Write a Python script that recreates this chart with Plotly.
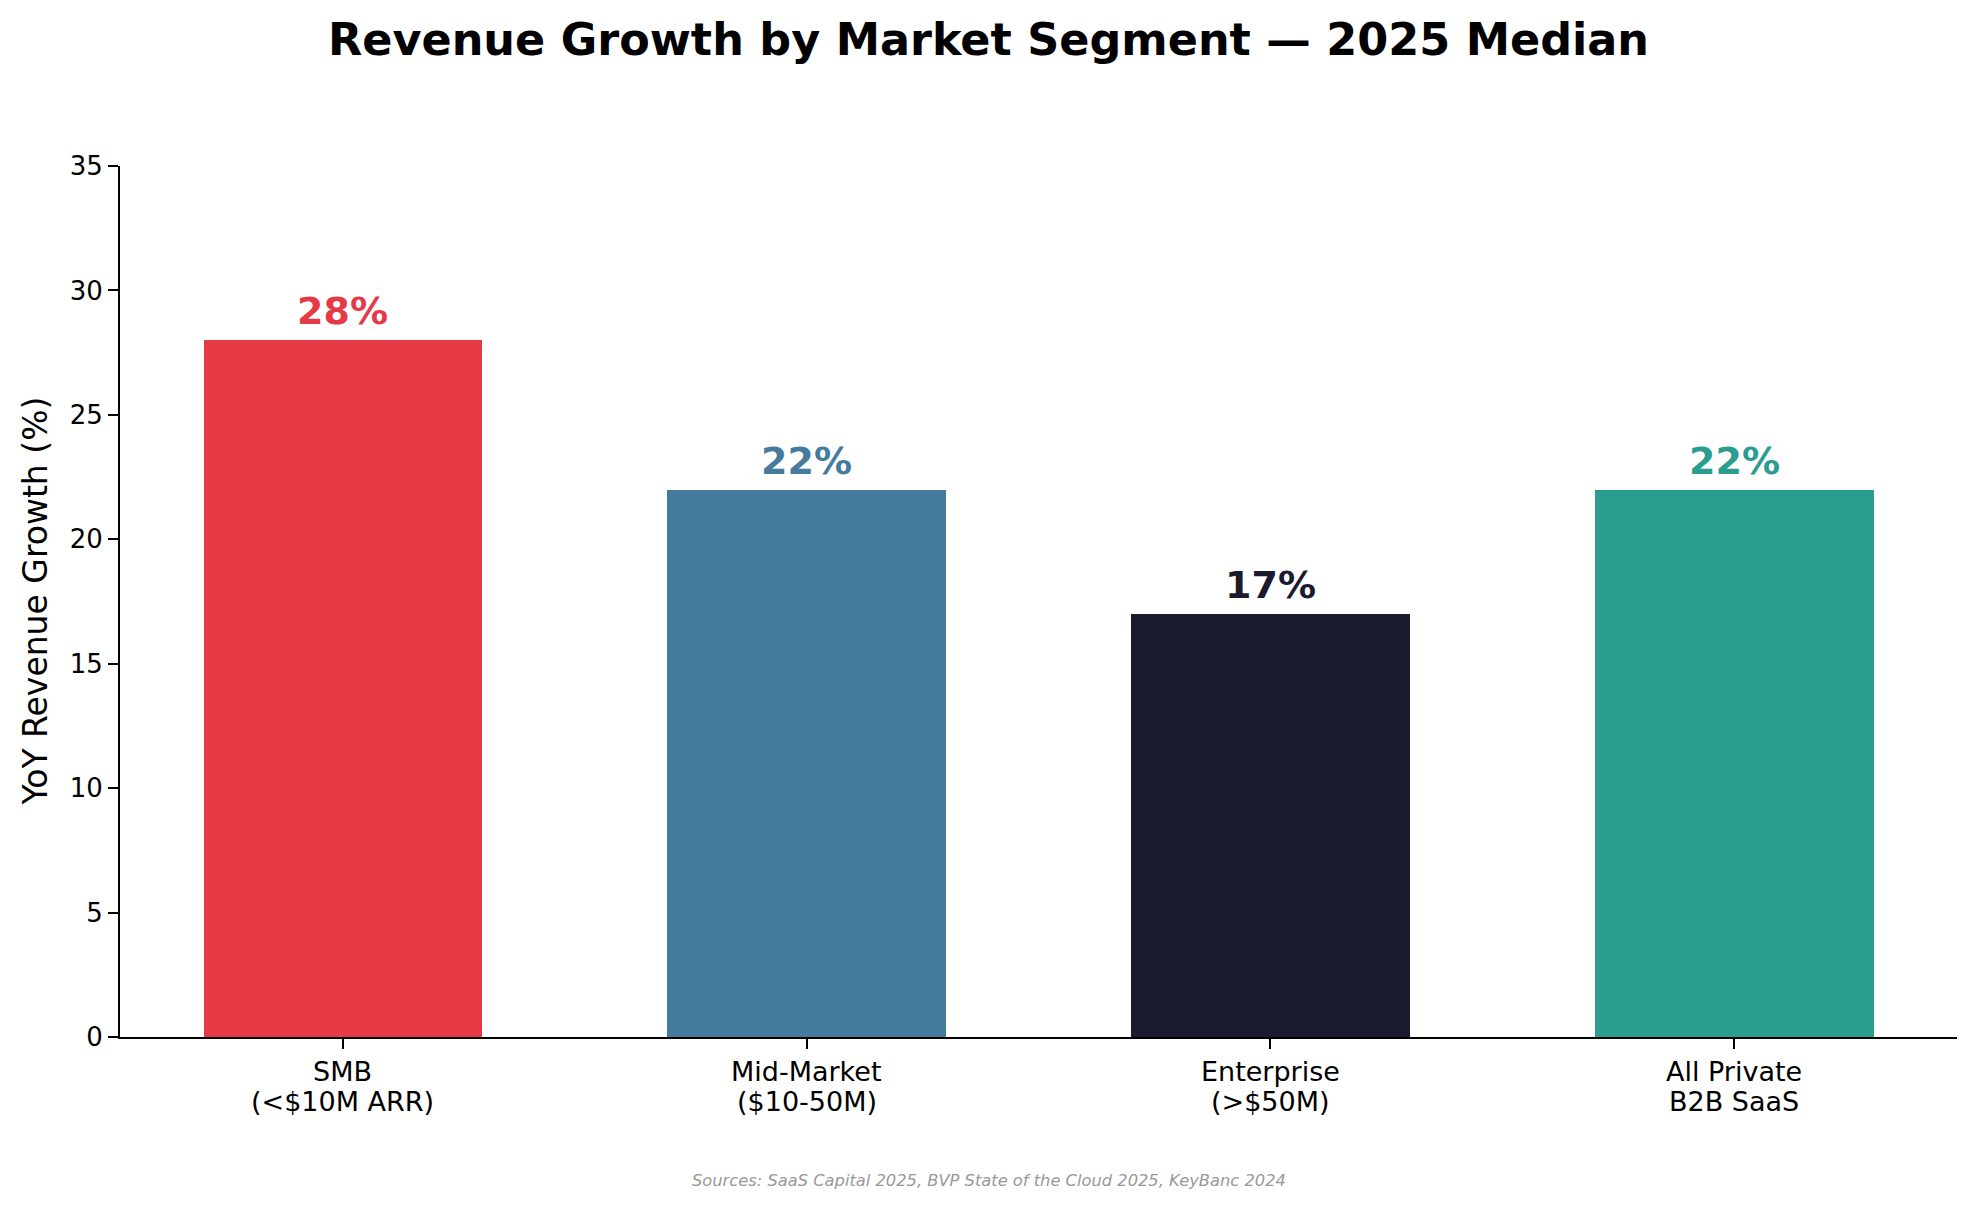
import plotly.graph_objects as go

categories = ["SMB\n(<$10M ARR)", "Mid-Market\n($10-50M)", "Enterprise\n(>$50M)", "All Private\nB2B SaaS"]
growth = [28, 22, 17, 22]
labels = ["28%", "22%", "17%", "22%"]
colors = ["#E63946", "#457B9D", "#1B1B2F", "#2A9D8F"]
yticks = [0, 5, 10, 15, 20, 25, 30, 35]

W, H = 1977, 1209
L, R, T, B = 120, 20, 166, 172
FONT = "DejaVu Sans"

xs = list(range(len(categories)))
plot_h = H - T - B
plot_w = W - L - R


def py(pix):
    return ((H - B) - pix) / plot_h


def px(pix):
    return (pix - L) / plot_w


fig = go.Figure()
fig.add_trace(go.Bar(x=xs, y=growth, width=0.6, marker=dict(color=colors, line=dict(width=0)),
                     showlegend=False, hoverinfo="skip"))

for x, v, t, c in zip(xs, growth, labels, colors):
    fig.add_annotation(x=x, y=v, xref="x", yref="y", text=f"<b>{t}</b>", showarrow=False,
                       yanchor="bottom", xanchor="center", yshift=5,
                       font=dict(family=FONT, size=38, color=c))

# two-line category labels
for x, cat in zip(xs, categories):
    for line, ypix in zip(cat.split("\n"), [1071, 1101]):
        fig.add_annotation(x=x, xref="x", yref="paper", y=py(ypix), text=line, showarrow=False,
                           xanchor="center", yanchor="middle",
                           font=dict(family=FONT, size=27, color="black"))

fig.add_annotation(xref="paper", yref="paper", x=px(35), y=0.5, textangle=-90,
                   text="YoY Revenue Growth (%)", showarrow=False, xanchor="center", yanchor="middle",
                   font=dict(family=FONT, size=33, color="black"))

fig.add_annotation(xref="paper", yref="paper", x=px(W / 2), y=py(1180),
                   text="<i>Sources: SaaS Capital 2025, BVP State of the Cloud 2025, KeyBanc 2024</i>",
                   showarrow=False, xanchor="center", yanchor="middle",
                   font=dict(family=FONT, size=16.3, color="#999999"))

fig.update_layout(
    width=W, height=H,
    margin=dict(l=L, r=R, t=T, b=B, pad=0),
    paper_bgcolor="white", plot_bgcolor="white",
    title=dict(text="<b>Revenue Growth by Market Segment — 2025 Median</b>",
               x=0.5, xanchor="center", xref="container",
               y=1 - 39 / H, yanchor="middle", yref="container",
               font=dict(family=FONT, size=44.5, color="black")),
    bargap=0,
)
fig.update_xaxes(range=[-0.48, 3.48], tickmode="array", tickvals=xs, ticktext=["" for _ in xs],
                 showline=True, linecolor="black", linewidth=2, ticks="outside", ticklen=10,
                 tickwidth=2, tickcolor="black", showgrid=False, zeroline=False,
                 tickfont=dict(family=FONT, size=27, color="black"), fixedrange=True)
fig.update_yaxes(range=[0, 35], tickmode="array", tickvals=yticks, ticktext=[str(v) for v in yticks],
                 showline=True, linecolor="black", linewidth=2, ticks="outside", ticklen=10,
                 tickwidth=2, tickcolor="black", showgrid=False, zeroline=False,
                 tickfont=dict(family=FONT, size=26, color="black"), fixedrange=True)

fig.write_html("out.html")
